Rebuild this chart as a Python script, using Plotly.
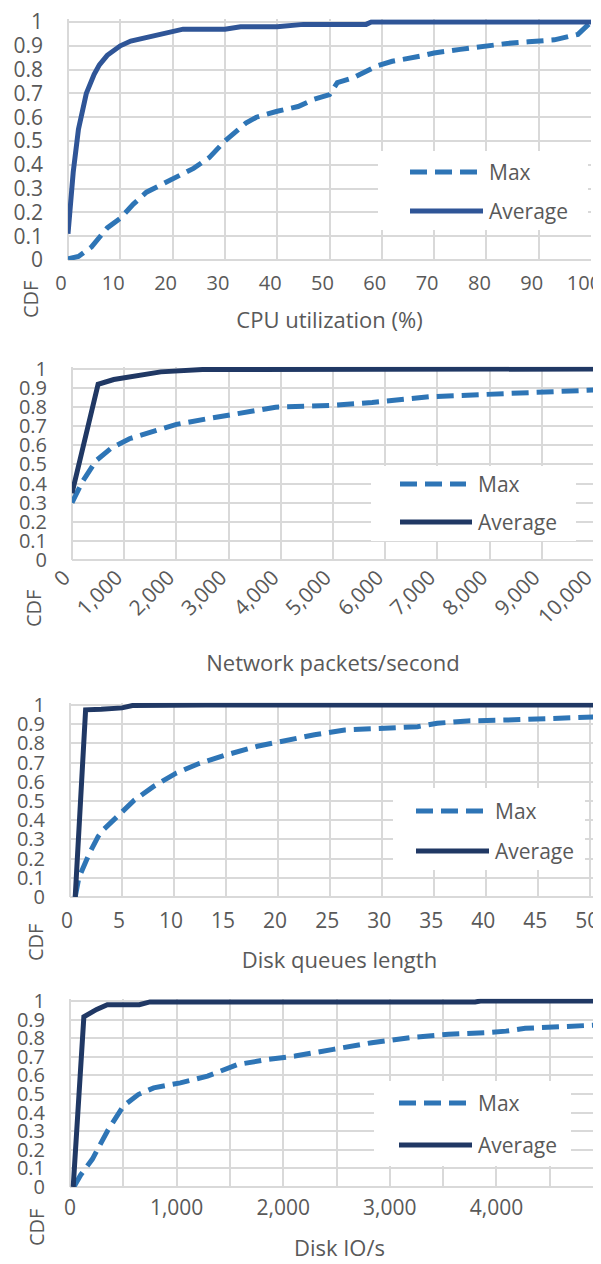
import plotly.graph_objects as go

# ---------------- data ----------------
cpu_avg_x = [0, 1, 2, 3.5, 5, 6, 7.5, 10, 12, 14, 17, 20, 22, 30, 33, 40, 45, 57, 58, 100]
cpu_avg_y = [0.11, 0.37, 0.55, 0.70, 0.78, 0.82, 0.86, 0.90, 0.92, 0.93, 0.95, 0.96, 0.97, 0.97, 0.98, 0.98, 0.99, 0.99, 1.0, 1.0]
cpu_max_x = [0, 2, 4.5, 7.5, 10, 12.5, 15, 18, 21, 24, 27, 30, 34, 36, 40, 44, 47, 50, 51.5, 54.5, 59, 62, 67.5, 70, 75, 80, 84, 88, 93, 97.5, 99, 100]
cpu_max_y = [0.005, 0.015, 0.055, 0.135, 0.175, 0.235, 0.285, 0.32, 0.35, 0.385, 0.43, 0.5, 0.575, 0.6, 0.625, 0.645, 0.675, 0.695, 0.745, 0.765, 0.815, 0.835, 0.857, 0.87, 0.885, 0.9, 0.91, 0.917, 0.925, 0.948, 0.976, 1.0]

net_avg_x = [0, 500, 800, 1200, 1700, 2500, 6000, 10000]
net_avg_y = [0.35, 0.92, 0.945, 0.965, 0.985, 0.997, 0.999, 1.0]
net_max_x = [0, 200, 460, 750, 1100, 1550, 2000, 2600, 3200, 3900, 5000, 5750, 6850, 7950, 9050, 10000]
net_max_y = [0.3, 0.41, 0.52, 0.585, 0.635, 0.675, 0.71, 0.74, 0.765, 0.8, 0.81, 0.825, 0.855, 0.868, 0.875, 0.89]

dq_avg_x = [0.5, 1.5, 3, 5, 6, 13, 52]
dq_avg_y = [0, 0.975, 0.978, 0.985, 0.997, 1.0, 1.0]
dq_max_x = [0.5, 0.85, 1.8, 2.7, 3.2, 4.7, 6.2, 8, 10.2, 12.4, 15, 18, 20.5, 23.5, 26.4, 30, 33.4, 35.3, 38.2, 42, 45.6, 52]
dq_max_y = [0, 0.1, 0.22, 0.315, 0.35, 0.43, 0.505, 0.575, 0.645, 0.695, 0.74, 0.785, 0.815, 0.845, 0.87, 0.882, 0.887, 0.905, 0.917, 0.922, 0.927, 0.94]

io_avg_x = [30, 130, 250, 350, 650, 750, 3800, 3850, 5100]
io_avg_y = [0, 0.915, 0.955, 0.98, 0.98, 0.995, 0.995, 1.0, 1.0]
io_max_x = [36, 100, 210, 350, 500, 640, 785, 1035, 1290, 1575, 1860, 2110, 2470, 2830, 3190, 3550, 3910, 4090, 4270, 4630, 5100]
io_max_y = [0, 0.065, 0.15, 0.3, 0.435, 0.497, 0.533, 0.56, 0.596, 0.659, 0.686, 0.704, 0.74, 0.776, 0.803, 0.821, 0.83, 0.838, 0.853, 0.865, 0.875]

cdf_ticks = [0, 0.1, 0.2, 0.3, 0.4, 0.5, 0.6, 0.7, 0.8, 0.9, 1]
cdf_labels = ["0", "0.1", "0.2", "0.3", "0.4", "0.5", "0.6", "0.7", "0.8", "0.9", "1"]

cpu_ticks = list(range(0, 101, 10))
cpu_labels = [str(v) for v in cpu_ticks]
net_ticks = list(range(0, 10001, 1000))
net_labels = [f"{v:,}" for v in net_ticks]
dq_ticks = list(range(0, 51, 5))
dq_labels = [str(v) for v in dq_ticks]
io_ticks = list(range(0, 5001, 500))
io_labels = [f"{v:,}" if (v % 1000 == 0 and v < 5000) else "" for v in io_ticks]

series_names = ["Max", "Average"]
x_titles = ["CPU utilization (%)", "Network packets/second", "Disk queues length", "Disk IO/s"]

# ---------------- styling ----------------
W, H = 601, 1264
FONT = "Open Sans"
TXT = "#595959"
GRID = "#d9d9d9"
MAX_COLOR = "#2E75B6"
AVG_COLORS = ["#2F5597", "#203864", "#203864", "#203864"]
LW = 5
DASH = "17px,8px"
YEXT = 0.012

panels = [
    dict(avg=(cpu_avg_x, cpu_avg_y), mx=(cpu_max_x, cpu_max_y), xr=[0, 100],
         ticks=cpu_ticks, labels=cpu_labels, angle=0, xstand=9, xshift=-7, xfont=20, ytick=21,
         box=(60, 583, 14, 252), leg=(370, 580, 143, 222, 402, 479, 164, 203),
         cdf=(22, 292), standoff=17),
    dict(avg=(net_avg_x, net_avg_y), mx=(net_max_x, net_max_y), xr=[0, 10000],
         ticks=net_ticks, labels=net_labels, angle=-45, xstand=0, xshift=-8, xfont=21, ytick=20,
         box=(64, 586, 361, 552), leg=(363, 568, 458, 533, 392, 468, 476, 514),
         cdf=(25, 601), standoff=27),
    dict(avg=(dq_avg_x, dq_avg_y), mx=(dq_max_x, dq_max_y), xr=[0, 51.8],
         ticks=dq_ticks, labels=dq_labels, angle=0, xstand=9, xshift=-3, xfont=21, ytick=20,
         box=(62, 601, 697, 889), leg=(385, 577, 780, 862, 408, 485, 803, 843),
         cdf=(28, 935), standoff=19),
    dict(avg=(io_avg_x, io_avg_y), mx=(io_max_x, io_max_y), xr=[0, 5056],
         ticks=io_ticks, labels=io_labels, angle=0, xstand=6, xshift=0, xfont=21, ytick=20,
         box=(62, 601, 993, 1179), leg=(366, 563, 1073, 1158, 391, 468, 1095, 1137),
         cdf=(28, 1220), standoff=20),
]


def fx(p):
    return p / W


def fy(p):
    return 1 - p / H


fig = go.Figure()
layout = dict(
    width=W, height=H, margin=dict(l=0, r=0, t=0, b=0),
    paper_bgcolor="white", plot_bgcolor="white", showlegend=False,
    font=dict(family=FONT, color=TXT, size=21),
)
shapes = []
annotations = []

for i, p in enumerate(panels):
    k = "" if i == 0 else str(i + 1)
    xa, ya = "x" + k, "y" + k
    left, right, top, bottom = p["box"]
    top_ext = top - YEXT * (bottom - top)

    fig.add_trace(go.Scatter(x=p["mx"][0], y=p["mx"][1], mode="lines", name=series_names[0],
                             line=dict(color=MAX_COLOR, width=LW, dash=DASH),
                             xaxis=xa, yaxis=ya))
    fig.add_trace(go.Scatter(x=p["avg"][0], y=p["avg"][1], mode="lines", name=series_names[1],
                             line=dict(color=AVG_COLORS[i], width=LW),
                             xaxis=xa, yaxis=ya))

    layout["xaxis" + k] = dict(
        domain=[fx(left), fx(right)], range=p["xr"], anchor=ya,
        tickmode="array", tickvals=p["ticks"], ticktext=p["labels"], tickangle=p["angle"],
        showgrid=True, gridcolor=GRID, gridwidth=1.5,
        zeroline=True, zerolinecolor=GRID, zerolinewidth=1.5,
        showline=False, ticks="", ticklabelstandoff=p["xstand"], ticklabelshift=p["xshift"],
        ticklabeloverflow="allow",
        tickfont=dict(size=p["xfont"], color=TXT, family=FONT),
        title=dict(text=x_titles[i], font=dict(size=22, color=TXT, family=FONT), standoff=p["standoff"]),
        automargin=False, fixedrange=True,
    )
    layout["yaxis" + k] = dict(
        domain=[fy(bottom), fy(top_ext)], range=[0, 1 + YEXT], anchor=xa,
        tickmode="array", tickvals=cdf_ticks, ticktext=cdf_labels,
        showgrid=True, gridcolor=GRID, gridwidth=1.5,
        zeroline=True, zerolinecolor=GRID, zerolinewidth=1.5,
        showline=False, ticks="", ticklabelstandoff=24,
        ticklabeloverflow="allow",
        tickfont=dict(size=p["ytick"], color=TXT, family=FONT),
        automargin=False, fixedrange=True,
    )

    # manual legend (white box + samples + labels)
    bx0, bx1, by0, by1, sx, tx, ymax, yavg = p["leg"]
    shapes.append(dict(type="rect", xref="paper", yref="paper", layer="above",
                       x0=fx(bx0), x1=fx(bx1), y0=fy(by1), y1=fy(by0),
                       fillcolor="white", line=dict(width=0)))
    shapes.append(dict(type="line", xref="paper", yref="paper", layer="above",
                       x0=fx(sx), x1=fx(tx - 10), y0=fy(ymax), y1=fy(ymax),
                       line=dict(color=MAX_COLOR, width=LW, dash=DASH)))
    shapes.append(dict(type="line", xref="paper", yref="paper", layer="above",
                       x0=fx(sx), x1=fx(tx - 4), y0=fy(yavg), y1=fy(yavg),
                       line=dict(color=AVG_COLORS[i], width=LW)))
    for name, yy in zip(series_names, (ymax, yavg)):
        annotations.append(dict(text=name, xref="paper", yref="paper", x=fx(tx), y=fy(yy),
                                xanchor="left", yanchor="middle", showarrow=False,
                                font=dict(size=21, color=TXT, family=FONT)))
    cx, cy = p["cdf"]
    annotations.append(dict(text="CDF", xref="paper", yref="paper", x=fx(cx), y=fy(cy),
                            xanchor="center", yanchor="middle", showarrow=False, textangle=-90,
                            font=dict(size=20, color=TXT, family=FONT)))

layout["shapes"] = shapes
layout["annotations"] = annotations
fig.update_layout(**layout)
fig.write_html("out.html")
